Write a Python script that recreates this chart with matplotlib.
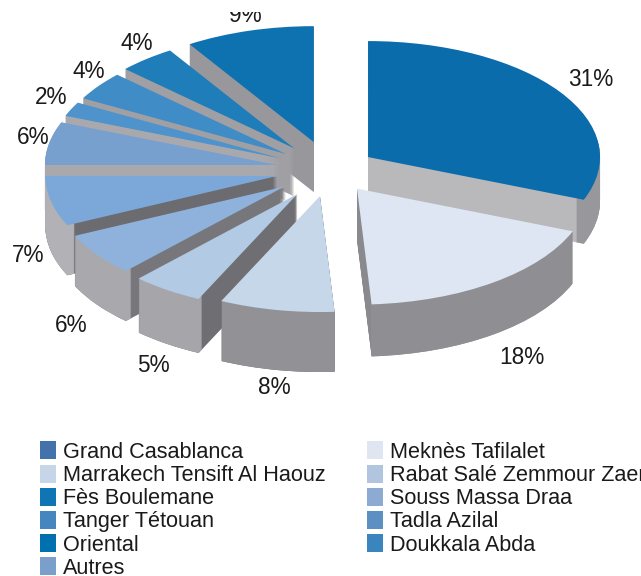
import math

import matplotlib
matplotlib.use("Agg")
import matplotlib.pyplot as plt
from matplotlib.patches import Patch
from matplotlib.transforms import Bbox

plt.rcParams["font.family"] = ["Liberation Sans", "DejaVu Sans"]

# slices, clockwise from the top
values = [31, 18, 8, 5, 6, 7, 6, 2, 4, 4, 9]
slice_labels = ["31%", "18%", "8%", "5%", "6%", "7%", "6%", "2%", "4%", "4%", "9%"]
top_colors = ["#0a6cab", "#dde6f2", "#c6d7ea", "#b2cae4", "#8fb2dc", "#7ba8d8",
              "#78a0cf", "#4e93cb", "#3f8cc6", "#1f7dba", "#0f72b0"]
cut_colors = ["#b9b9bc", "#8a8a8e", "#68686c", "#6f6f73", "#77777b", "#6c6c70",
              "#a9a9ad", "#a9a9ad", "#a0a0a4", "#a0a0a4", "#98989c"]
rim_colors = ["#98989c", "#8f8f93", "#929296", "#a6a6aa", "#a9a9ad", "#b2b2b6",
              "#a9a9ad", "#a9a9ad", "#a0a0a4", "#a0a0a4", "#98989c"]
explode = [46, 46, 53, 58, 56, 54, 54, 54, 54, 56, 58]
depths = [44, 52, 60, 54, 50, 50, 46, 46, 46, 48, 50]

legend_names = ["Grand Casablanca", "Marrakech Tensift Al Haouz", "Fès Boulemane",
                "Tanger Tétouan", "Oriental", "Autres", "Meknès Tafilalet",
                "Rabat Salé Zemmour Zaer", "Souss Massa Draa", "Tadla Azilal",
                "Doukkala Abda"]
legend_colors = ["#4472aa", "#c6d6e8", "#0f76b3", "#4486bd", "#0071ae", "#7a9fcb",
                 "#dfe6f1", "#b1c5df", "#8caad2", "#5c8fc2", "#3a85bd"]

W, H = 641, 576
# label centres, in picture pixels
label_pos = [(591, 79), (522, 357), (274, 388), (153, 365), (71, 326), (28, 256),
             (33, 138), (51, 97), (89, 72), (137, 44), (245, 16)]

SQUASH = 0.5
RADIUS = 232
CENTER = (330, 170)


def y_data(py):
    return (H - py) / SQUASH


def draw_pie(ax, py, colors, zorders, width=None, d=0):
    props = {"linewidth": 0}
    if width:
        props["width"] = width
    wedges, _ = ax.pie(values, colors=colors, explode=explode, radius=RADIUS,
                       center=(CENTER[0], y_data(py)), startangle=90,
                       counterclock=False, wedgeprops=props)
    for w, z, dep in zip(wedges, zorders, depths):
        w.set_zorder(z)
        w.set_visible(d <= dep)


fig = plt.figure(figsize=(W / 100, H / 100), dpi=100)
ax = fig.add_axes([0, 0, 1, 1])

# back slices first, front ones last
cum = 0
depth_order = []
for v in values:
    mid = math.radians(90 - 3.6 * (cum + v / 2))
    depth_order.append(-math.sin(mid))
    cum += v
ranks = sorted(range(len(values)), key=lambda i: depth_order[i])
base_z = [0] * len(values)
for r, i in enumerate(ranks):
    base_z[i] = 10 * (r + 1)

# sides are stacked copies of the pie going downwards
for d in range(max(depths), 0, -1):
    draw_pie(ax, CENTER[1] + d, cut_colors, [z + 1 for z in base_z], d=d)
    draw_pie(ax, CENTER[1] + d, rim_colors, [z + 2 for z in base_z], width=8, d=d)
draw_pie(ax, CENTER[1], top_colors, [z + 3 for z in base_z])

ax.set_xlim(0, W)
ax.set_ylim(0, H / SQUASH)
ax.set_aspect("auto")
ax.set_axis_off()

for txt, (px, py) in zip(slice_labels, label_pos):
    t = fig.text(px / W, 1 - py / H, txt, fontsize=16.3, color="#1a1a1a",
                 ha="center", va="center")
    if txt == "9%":
        # the top of this label is cut off in the source
        t.set_clip_box(Bbox([[0, 0], [W, H - 12]]))
        t.set_clip_on(True)

handles = [Patch(facecolor=c, linewidth=0) for c in legend_colors]
fig.legend(handles, legend_names, ncol=2, frameon=False, fontsize=15.6,
           loc="upper left", bbox_to_anchor=(36 / W, 1 - 437 / H),
           handlelength=0.74, handleheight=0.9, handletextpad=0.32,
           labelspacing=0.08, columnspacing=1.9, borderpad=0.2, borderaxespad=0,
           labelcolor="#1a1a1a")

fig.savefig("out.png", dpi=100, facecolor="white")
